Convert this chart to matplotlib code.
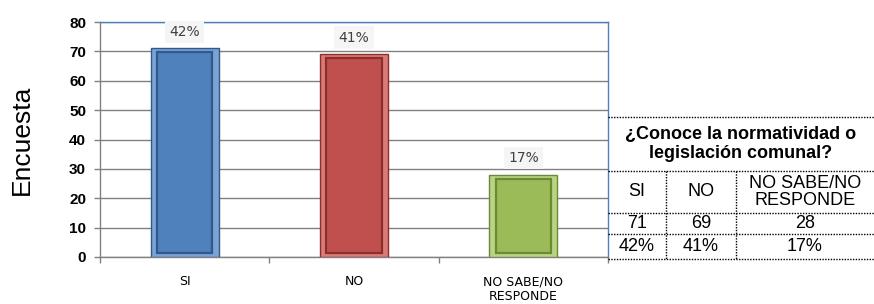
import matplotlib.pyplot as plt
from matplotlib.lines import Line2D
import numpy as np

# data
categorias = ['SI', 'NO', 'NO SABE/NO\nRESPONDE']
encuestas = [71, 69, 28]
porcentajes = [42, 41, 17]
colores = ['#4F81BD', '#C0504D', '#9BBB59']
bordes = ['#2E5A8C', '#8C2E2B', '#6A8A35']
claros = ['#7DA3D4', '#D97C79', '#B9D482']

titulo_tabla = '¿Conoce la normatividad o\nlegislación comunal?'
encabezados = ['SI', 'NO', 'NO SABE/NO\nRESPONDE']

W, H = 874, 304
fig = plt.figure(figsize=(W / 100, H / 100), dpi=100)
ax = fig.add_axes([100 / W, 1 - 257 / H, 508 / W, 235 / H])

x = np.arange(len(categorias))
ancho = 0.4
# outer bar (bevel edge) and inner face
ax.bar(x, encuestas, width=ancho, color=claros, edgecolor=bordes, linewidth=1, zorder=3)
ax.bar(x, np.array(encuestas) - 2.6, bottom=1.3, width=ancho * 0.82,
       color=colores, edgecolor=bordes, linewidth=1.6, zorder=4)

for xi, v, p in zip(x, encuestas, porcentajes):
    ax.annotate(f'{p}%', (xi, v), xytext=(0, 7), textcoords='offset points',
                ha='center', va='bottom', fontsize=10, color='#404040',
                fontfamily='DejaVu Sans',
                bbox=dict(boxstyle='square,pad=0.3', facecolor='#f5f5f5', edgecolor='none'))

ax.set_xlim(-0.5, 2.5)
ax.set_ylim(0, 80)
ax.set_yticks(range(0, 81, 10))
ax.yaxis.grid(True, color='#808080', linewidth=1, zorder=0)
ax.set_axisbelow(True)

ax.set_xticks(x)
ax.set_xticklabels(categorias, fontsize=9, fontfamily='DejaVu Sans', linespacing=1.15)
ax.tick_params(axis='x', length=0, pad=13)
ax.set_xticks([-0.5, 0.5, 1.5, 2.5], minor=True)
ax.tick_params(axis='x', which='minor', length=4, color='#808080', width=1)
ax.tick_params(axis='y', length=4, color='#808080', width=1, pad=6)
for lab in ax.get_yticklabels():
    lab.set_fontweight('bold')
    lab.set_fontsize(11)
    lab.set_fontfamily('Liberation Sans')

ax.spines['left'].set_color('#808080')
ax.spines['bottom'].set_color('#808080')
ax.spines['top'].set_color('#4F7EBF')
ax.spines['right'].set_color('#4F7EBF')
for s in ax.spines.values():
    s.set_linewidth(1)

ax.set_ylabel('Encuesta', fontsize=19, fontfamily='Liberation Sans')
ax.yaxis.set_label_coords(-66 / 508, 0.5)

# table on the right, in pixel coordinates
def fx(px):
    return px / W


def fy(py):
    return 1 - py / H


cols = [608, 666, 736, 874]
rows = [117, 171, 213, 234, 259]
punteado = dict(color='black', linewidth=1, linestyle=(0, (1, 1)))
for r in rows:
    fig.add_artist(Line2D([fx(cols[0]), fx(cols[-1])], [fy(r), fy(r)], **punteado))
for c in cols[1:3]:
    fig.add_artist(Line2D([fx(c), fx(c)], [fy(rows[1]), fy(rows[-1])], **punteado))

fuente = dict(fontfamily='Liberation Sans', ha='center', va='center')
fig.text(fx((cols[0] + cols[-1]) / 2), fy((rows[0] + rows[1]) / 2), titulo_tabla,
         fontsize=13, fontweight='bold', linespacing=1.1, **fuente)
for i in range(3):
    cx = fx((cols[i] + cols[i + 1]) / 2)
    fig.text(cx, fy((rows[1] + rows[2]) / 2), encabezados[i], fontsize=13,
             linespacing=1.0, **fuente)
    fig.text(cx, fy((rows[2] + rows[3]) / 2), str(encuestas[i]), fontsize=13, **fuente)
    fig.text(cx, fy((rows[3] + rows[4]) / 2), f'{porcentajes[i]}%', fontsize=13, **fuente)

fig.savefig('out.png', dpi=100)
